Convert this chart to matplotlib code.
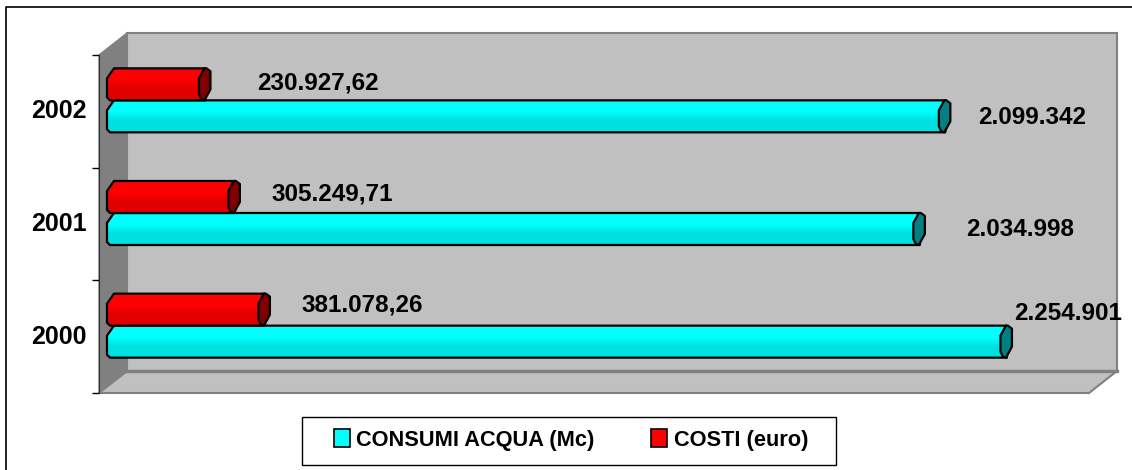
import numpy as np
import matplotlib
matplotlib.use("Agg")
import matplotlib.pyplot as plt
from matplotlib.patches import Polygon, Patch, Rectangle
from matplotlib.lines import Line2D
from matplotlib.transforms import IdentityTransform, Affine2D

# dati
anni = ["2000", "2001", "2002"]
consumi = [2254901, 2034998, 2099342]
costi = [381078.26, 305249.71, 230927.62]
consumi_lab = ["2.254.901", "2.034.998", "2.099.342"]
costi_lab = ["381.078,26", "305.249,71", "230.927,62"]

W, H = 1132, 470
plt.rcParams["font.family"] = ["Liberation Sans", "DejaVu Sans"]
plt.rcParams["font.weight"] = "bold"


def px(x, y):
    # coordinate immagine -> display
    return (x, H - y)


fig = plt.figure(figsize=(W / 100, H / 100), dpi=100, facecolor="white")
ax = fig.add_axes([99 / W, (H - 393) / H, 990 / W, 338 / H], facecolor="none", zorder=2)
ax.set_xlim(0, 2500000)
ax.set_ylim(-0.5, 2.5)

# cornice esterna
no_tr = IdentityTransform()
fig.add_artist(Line2D([6, 6, W], [0, H - 7, H - 7], color="black", lw=1.2, transform=no_tr))

# pareti 3D
dx, dy = 28, 22
fig.add_artist(Polygon([px(127, 33), px(1117, 33), px(1117, 371), px(127, 371)], fc="#C0C0C0",
                       ec="#808080", lw=1.5, transform=no_tr, zorder=0.5))
fig.add_artist(Polygon([px(99, 393), px(127, 371), px(1117, 371), px(1089, 393)], fc="#C0C0C0",
                       ec="#808080", lw=1.5, transform=no_tr, zorder=0.6))
fig.add_artist(Polygon([px(99, 55), px(127, 33), px(127, 371), px(99, 393)], fc="#808080",
                       ec="#808080", lw=1, transform=no_tr, zorder=0.7))
fig.add_artist(Line2D([127, 1117], [H - 371, H - 371], color="#808080", lw=2.4, transform=no_tr, zorder=0.8))

# assi
for s in ["top", "right", "bottom"]:
    ax.spines[s].set_visible(False)
ax.spines["left"].set_color("#303030")
ax.set_xticks([])
ax.set_yticks(range(3))
ax.set_yticklabels(anni, fontsize=18, fontweight="bold")
ax.tick_params(axis="y", which="major", length=0, pad=9)
for lab in ax.get_yticklabels():
    lab.set_transform(lab.get_transform() + Affine2D().translate(0, 2.5))
ax.set_yticks([-0.5, 0.5, 1.5, 2.5], minor=True)
ax.tick_params(axis="y", which="minor", length=5, width=1, color="black")

h = 32 / (338 / 3)
bar_cy = ax.barh(np.arange(3) - h / 2, consumi, height=h, color="none", label="CONSUMI ACQUA (Mc)")
bar_rd = ax.barh(np.arange(3) + h / 2, costi, height=h, color="none", label="COSTI (euro)")


def cilindro(rect, top_col, low_col, cap_col, zo):
    # disegna la barra come cilindro, spostata a meta profondita
    (x0, y0), (x1, y1) = ax.transData.transform(
        [(rect.get_x(), rect.get_y()), (rect.get_x() + rect.get_width(), rect.get_y() + rect.get_height())])
    x0 += dx / 2
    x1 += dx / 2
    y0 += dy / 2
    y1 += dy / 2
    body = [(x0 + 1, y1), (x1 + 1, y1), (x1 + 1, y0), (x0 - 3, y0), (x0 - 6, y0 + 3), (x0 - 6, y1 - 10)]
    grad = np.array([top_col, top_col, low_col, low_col]) / 255.0
    steps = np.interp(np.linspace(0, 1, 32), [0, 0.35, 0.65, 1], [0, 0, 1, 1])
    img = np.array([grad[0] * (1 - t) + grad[-1] * t for t in steps])[:, None, :]
    im = ax.imshow(img, extent=(x0 - 7, x1 + 2, y0, y1), transform=no_tr, aspect="auto", zorder=zo)
    pg = Polygon(body, closed=True, fc="none", ec="black", lw=1.6, transform=no_tr, zorder=zo + 0.1,
                 joinstyle="round", clip_on=False)
    ax.add_patch(pg)
    im.set_clip_path(pg)
    cap = [(x1 + 2, y1), (x1 + 6, y1 - 3), (x1 + 6, y0 + 11), (x1, y0), (x1 - 3, y0 + 1), (x1 - 5.5, y0 + 6),
           (x1 - 5.5, y1 - 10), (x1, y1)]
    ax.add_patch(Polygon(cap, closed=True, fc=cap_col, ec="black", lw=1.6, transform=no_tr, zorder=zo + 0.2,
                         joinstyle="round", clip_on=False))


for r in bar_cy:
    cilindro(r, (0, 255, 255), (0, 224, 224), "#008080", 3)
for r in bar_rd:
    cilindro(r, (255, 0, 0), (224, 0, 0), "#800000", 4)

ax.set_xlim(0, 2500000)
ax.set_ylim(-0.5, 2.5)
ax.set_aspect("auto")

# etichette valori (posizioni a mano, come nell'originale)
pos_cy = [(1014, 314), (966, 229), (978, 117)]
pos_rd = [(301, 305), (271, 194), (257, 83)]
for s, (x, y) in zip(consumi_lab, pos_cy):
    ax.text(x, H - y, s, transform=no_tr, fontsize=17.5, fontweight="bold", va="center", ha="left", zorder=6)
for s, (x, y) in zip(costi_lab, pos_rd):
    ax.text(x, H - y, s, transform=no_tr, fontsize=17.5, fontweight="bold", va="center", ha="left", zorder=6)

# legenda
fig.add_artist(Rectangle(px(302, 465), 534, 48, fc="white", ec="black", lw=1, transform=no_tr, zorder=4))
handles = [Patch(fc="#00FFFF", ec="black", lw=1.2), Patch(fc="#FF0000", ec="black", lw=1.2)]
leg = fig.legend(handles, ["CONSUMI ACQUA (Mc)", "COSTI (euro)"], loc="center", ncol=2,
                 bbox_to_anchor=(571 / W, (H - 440) / H), fontsize=15.7, frameon=False,
                 handlelength=0.72, handleheight=0.85, handletextpad=0.3,
                 columnspacing=2.6, borderpad=0, borderaxespad=0)
leg.set_zorder(5)

fig.savefig("out.png", dpi=100)
